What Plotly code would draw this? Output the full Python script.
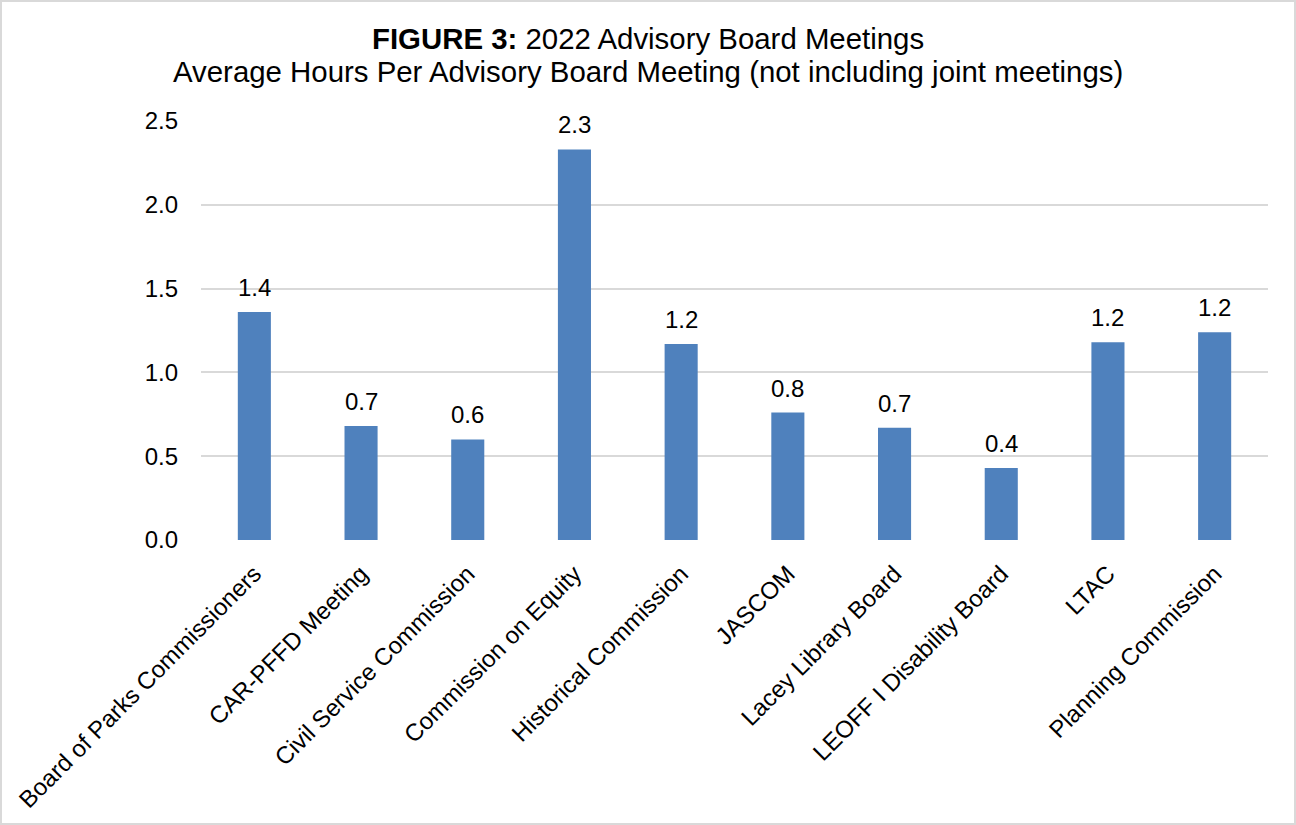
import plotly.graph_objects as go

categories = [
    "Board of Parks Commissioners",
    "CAR-PFFD Meeting",
    "Civil Service Commission",
    "Commission on Equity",
    "Historical Commission",
    "JASCOM",
    "Lacey Library Board",
    "LEOFF I Disability Board",
    "LTAC",
    "Planning Commission",
]
avg_hours = [1.36, 0.68, 0.60, 2.33, 1.17, 0.76, 0.67, 0.43, 1.18, 1.24]
y_ticks = [0.0, 0.5, 1.0, 1.5, 2.0, 2.5]
title_line1 = "<b>FIGURE 3:</b> 2022 Advisory Board Meetings"
title_line2 = "Average Hours Per Advisory Board Meeting (not including joint meetings)"

FONT = "Liberation Sans, Arial, sans-serif"
W, H = 1296, 825
ML, MR, MT, MB = 201, 28, 121, 285
PW, PH = W - ML - MR, H - MT - MB


def px_x(p):
    return (p - ML) / PW


def px_y(p):
    return (H - MB - p) / PH


fig = go.Figure()
fig.add_trace(go.Bar(
    x=categories,
    y=avg_hours,
    marker=dict(color="#4F81BD", line=dict(width=0)),
    width=0.31,
    hoverinfo="x+y",
))

annotations = [
    dict(x=c, y=v, text=f"{v:.1f}", showarrow=False, xref="x", yref="y",
         yanchor="bottom", yshift=9, font=dict(family=FONT, size=24, color="#000000"))
    for c, v in zip(categories, avg_hours)
]
annotations += [
    dict(x=px_x(W / 2), y=px_y(39), xref="paper", yref="paper", text=title_line1,
         showarrow=False, xanchor="center", yanchor="middle",
         font=dict(family=FONT, size=29.4, color="#000000")),
    dict(x=px_x(W / 2), y=px_y(72), xref="paper", yref="paper", text=title_line2,
         showarrow=False, xanchor="center", yanchor="middle",
         font=dict(family=FONT, size=29.4, color="#000000")),
]

fig.update_layout(
    width=W, height=H,
    margin=dict(l=ML, r=MR, t=MT, b=MB, autoexpand=False),
    paper_bgcolor="white", plot_bgcolor="white",
    showlegend=False,
    font=dict(family=FONT, size=24, color="#000000"),
    xaxis=dict(
        tickangle=-45, showgrid=False, zeroline=False, showline=False,
        ticks="", ticklabelstandoff=14,
        tickfont=dict(family=FONT, size=24, color="#000000"),
    ),
    yaxis=dict(
        range=[0, 2.5], tickvals=y_ticks, ticktext=[f"{t:.1f}" for t in y_ticks],
        showgrid=True, gridcolor="#D9D9D9", gridwidth=1.5,
        zeroline=False, showline=False, ticks="",
        ticklabelstandoff=22,
        tickfont=dict(family=FONT, size=24, color="#000000"),
    ),
    annotations=annotations,
    shapes=[dict(
        type="rect", xref="paper", yref="paper",
        x0=px_x(1), x1=px_x(W - 1),
        y0=px_y(H - 1), y1=px_y(1),
        line=dict(color="#D9D9D9", width=2), fillcolor="rgba(0,0,0,0)",
        layer="below",
    )],
)

fig.write_html("out.html")
